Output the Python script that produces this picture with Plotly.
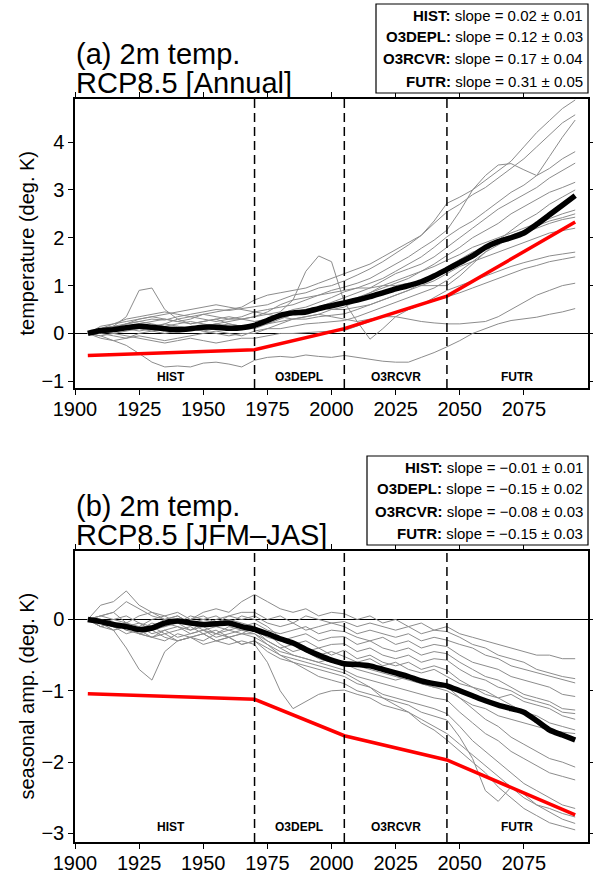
import plotly.graph_objects as go

# ---------------- data ----------------
years = list(range(1905, 2096, 5))
period_edges = [1970, 2005, 2045]
period_names = ["HIST", "O3DEPL", "O3RCVR", "FUTR"]
period_label_x = [1937.5, 1987.5, 2025, 2072.5]
x_ticks = [1900, 1925, 1950, 1975, 2000, 2025, 2050, 2075]

fit_years = [1905, 1970, 2005, 2045, 2095]
annual_fit = [-0.46, -0.34, 0.10, 0.78, 2.33]
seasonal_fit = [-1.04, -1.12, -1.63, -1.97, -2.74]

annual_mean = [0, .06, .08, .12, .15, .13, .10, .08, .10, .13, .13, .11, .12, .17,
               .27, .38, .43, .45, .52, .58, .64,
               .70, .77, .85, .93, 1.0, 1.08, 1.2, 1.34,
               1.48, 1.62, 1.8, 1.92, 2.0, 2.1, 2.28, 2.48, 2.68, 2.88]
seasonal_mean = [0, -.03, -.07, -.10, -.14, -.12, -.05, -.02, -.05, -.07, -.06, -.05, -.10, -.14,
                 -.20, -.27, -.33, -.42, -.50, -.57, -.62,
                 -.63, -.65, -.70, -.75, -.80, -.86, -.90, -.93,
                 -1.0, -1.07, -1.14, -1.2, -1.25, -1.3, -1.42, -1.55, -1.62, -1.69]

a01 = [0, .08, .15, .2, .25, .3, .28, .35, .4, .45, .5, .48, .52, .55] + [.6, .7, .8, .85, .95, 1.0, 1.1] + [1.22, 1.35, 1.5, 1.68, 1.85, 2.05, 2.35, 2.72] + [2.85, 3.0, 3.2, 3.4, 3.6, 3.9, 4.2, 4.45, 4.7, 4.88]
a02 = [0, .05, .1, .15, .2, .15, .2, .3, .35, .4, .45, .5, .55, .7] + [.8, .85, .9, .95, 1.05, 1.15, 1.25] + [1.35, 1.45, 1.6, 1.75, 1.9, 2.05, 2.3, 2.54] + [2.7, 2.9, 3.05, 3.25, 3.45, 3.65, 3.9, 4.15, 4.4, 4.57]
a03 = [0, .1, .12, .2, .3, .35, .3, .25, .3, .4, .35, .3, .35, .45] + [.5, .55, .6, .7, .8, .9, .97] + [1.05, 1.15, 1.3, 1.45, 1.6, 1.78, 1.95, 2.16] + [2.55, 3.0, 3.3, 3.52, 3.55, 3.42, 3.3, 3.7, 4.1, 4.46]
a04 = [0, -.05, 0, .05, .1, .05, 0, .05, .1, .15, .2, .15, .1, .2] + [.3, .4, .5, .55, .65, .75, .87] + [.95, 1.05, 1.15, 1.3, 1.45, 1.6, 1.8, 2.02] + [2.2, 2.35, 2.55, 2.75, 2.95, 3.1, 3.3, 3.45, 3.65, 3.8]
a05 = [0, .1, .15, .1, .05, .1, .2, .15, .1, .05, .1, .15, .1, .1] + [.2, .3, .4, .5, .55, .65, .76] + [.85, .95, 1.1, 1.25, 1.35, 1.45, 1.6, 1.81] + [2.0, 2.2, 2.4, 2.6, 2.75, 2.9, 3.05, 3.25, 3.4, 3.56]
a06 = [0, .15, .2, .3, .35, .4, .45, .4, .35, .3, .25, .3, .3, .25] + [.3, .4, .45, .5, .55, .6, .66] + [.75, .85, .95, 1.05, 1.15, 1.3, 1.45, 1.63] + [1.8, 2.0, 2.15, 2.3, 2.5, 2.65, 2.8, 2.95, 3.05, 3.16]
a07 = [0, 0, -.05, -.1, 0, .05, .1, .15, .1, .05, 0, -.05, 0, 0] + [.1, .2, .3, .35, .4, .5, .55] + [.7, .85, 1.0, 1.1, 1.2, 1.3, 1.4, 1.53] + [1.65, 1.8, 1.9, 2.0, 2.1, 2.2, 2.3, 2.4, 2.5, 2.58]
a08 = [0, .05, .1, .2, .25, .2, .15, .2, .25, .2, .15, .2, .15, .15] + [.2, .25, .3, .3, .35, .38, .41] + [.5, .6, .7, .8, .9, 1.05, 1.2, 1.39] + [1.55, 1.7, 1.8, 1.95, 2.05, 2.15, 2.25, 2.35, 2.42, 2.5]
a09 = [0, -.1, -.15, -.1, -.05, -.1, -.15, -.1, -.05, 0, .05, 0, -.05, .05] + [.1, .1, .15, .2, .22, .25, .27] + [.35, .45, .55, .65, .75, .85, .95, 1.11] + [1.3, 1.5, 1.7, 1.85, 2.0, 2.1, 2.2, 2.3, 2.38, 2.43]
a10 = [0, .05, .1, .15, .2, .25, .3, .25, .2, .25, .3, .35, .3, .35] + [.4, .45, .7, 1.3, 1.62, 1.5, .65] + [.25, -.12, .1, .35, .5, .6, .75, .9] + [1.0, 1.1, 1.2, 1.3, 1.4, 1.48, 1.55, 1.62, 1.66, 1.7]
a11 = [0, .05, 0, -.05, -.1, -.15, -.2, -.15, -.1, -.15, -.2, -.15, -.1, -.1] + [-.05, 0, 0, .02, .03, .05, .06] + [.15, .25, .35, .45, .5, .6, .68, .76] + [.85, .95, 1.05, 1.15, 1.25, 1.35, 1.42, 1.5, 1.55, 1.6]
a12 = [0, .1, .2, .25, .3, .35, .4, .45, .5, .55, .6, .55, .5, .45] + [.4, .35, .3, .35, .4, .35, .3] + [.25, .3, .35, .35, .3, .25, .22, .2] + [.2, .22, .25, .35, .5, .65, .8, .9, 1.0, 1.05]
a13 = [0, -.05, -.15, -.25, -.42, -.6, -.7, -.68, -.7, -.62, -.6, -.64, -.7, -.56] + [-.5, -.48, -.5, -.45, -.48, -.5, -.46] + [-.5, -.55, -.58, -.6, -.6, -.5, -.4, -.28] + [-.15, 0, .1, .2, .27, .3, .34, .4, .45, .52]
a14 = [0, .1, .15, .35, .9, .95, .5, .3, .2, .25, .3, .2, .15, .2] + [.3, .4, .45, .5, .55, .5, .5] + [.55, .6, .7, .8, .9, 1.0, 1.1, 1.25] + [1.4, 1.5, 1.6, 1.7, 1.8, 1.9, 2.0, 2.1, 2.15, 2.2]
a15 = [0, .05, .15, .1, .2, .15, .1, .05, .1, .15, .2, .25, .3, .35] + [.45, .6, .7, .75, .8, .85, .9] + [.95, .95, 1.0, 1.0, 1.05, 1.0, 1.0, 1.0] + [1.2, 1.45, 1.7, 1.95, 2.15, 2.35, 2.5, 2.7, 2.85, 3.0]
annual_members = [a01, a02, a03, a04, a05, a06, a07, a08, a09, a10, a11, a12, a13, a14, a15]

b01 = [0, .2, .25, .4, .2, .1, .05, .1, 0, .1, .15, .1, .25, .35] + [.25, .15, .1, .15, .05, .1, .08] + [0, .05, -.05, 0, -.1, -.05, -.15, -.1] + [-.2, -.25, -.3, -.35, -.4, -.45, -.5, -.5, -.55, -.55]
b02 = [0, .05, 0, -.05, .05, .1, 0, -.05, .05, 0, -.05, .05, .1, .1] + [0, .05, -.05, .05, 0, -.05, -.03] + [-.1, -.05, -.1, -.15, -.1, -.2, -.15, -.17] + [-.25, -.35, -.4, -.5, -.55, -.6, -.7, -.75, -.8, -.83]
b03 = [0, -.05, 0, .05, -.05, -.1, 0, .05, -.05, -.1, 0, .05, 0, .05] + [-.05, -.1, -.05, -.15, -.1, -.05, -.1] + [-.2, -.15, -.2, -.25, -.2, -.3, -.25, -.29] + [-.35, -.4, -.5, -.55, -.65, -.7, -.75, -.8, -.85, -.89]
b04 = [0, -.1, -.05, -.1, -.15, -.05, -.1, 0, -.05, -.15, -.1, -.05, -.1, -.05] + [-.15, -.2, -.15, -.1, -.2, -.15, -.17] + [-.25, -.3, -.25, -.35, -.3, -.4, -.35, -.38] + [-.5, -.6, -.65, -.7, -.8, -.85, -.9, -.95, -1.05, -1.08]
b05 = [0, 0, -.1, -.05, -.2, -.15, -.05, -.1, -.15, -.05, -.1, -.15, -.2, -.1] + [-.2, -.3, -.25, -.2, -.3, -.25, -.24] + [-.35, -.3, -.4, -.45, -.4, -.5, -.45, -.48] + [-.6, -.7, -.8, -.85, -.95, -1.05, -1.1, -1.15, -1.25, -1.27]
b06 = [0, -.05, -.15, -.1, -.2, -.25, -.15, -.1, -.2, -.15, -.2, -.1, -.15, -.15] + [-.25, -.3, -.35, -.3, -.4, -.35, -.34] + [-.45, -.4, -.5, -.55, -.5, -.6, -.55, -.57] + [-.7, -.8, -.85, -.95, -1.0, -1.1, -1.15, -1.2, -1.3, -1.32]
b07 = [0, -.1, -.05, -.15, -.1, -.2, -.15, -.25, -.2, -.15, -.25, -.2, -.15, -.2] + [-.3, -.4, -.35, -.45, -.4, -.5, -.43] + [-.55, -.5, -.6, -.65, -.6, -.7, -.65, -.71] + [-.85, -.95, -1.05, -1.1, -1.2, -1.3, -1.35, -1.45, -1.5, -1.55]
b08 = [0, .05, .1, -.05, -.1, 0, .05, -.05, 0, .05, -.05, 0, -.05, -.1] + [-.2, -.35, -.45, -.4, -.5, -.45, -.52] + [-.6, -.55, -.65, -.6, -.7, -.75, -.7, -.8] + [-.9, -.95, -1.0, -1.1, -1.05, -1.15, -1.2, -1.25, -1.35, -1.4]
b09 = [0, -.05, -.1, -.2, -.15, -.25, -.2, -.3, -.25, -.2, -.3, -.25, -.2, -.25] + [-.35, -.45, -.5, -.55, -.6, -.55, -.62] + [-.7, -.75, -.8, -.85, -.8, -.9, -.95, -.94] + [-1.1, -1.25, -1.4, -1.5, -1.65, -1.75, -1.85, -1.95, -2.0, -2.07]
b10 = [0, 0, -.05, -.1, -.05, -.15, -.1, -.05, -.15, -.1, -.2, -.15, -.1, -.15] + [-.3, -.4, -.5, -.55, -.6, -.65, -.71] + [-.8, -.85, -.9, -.95, -1.0, -1.05, -1.1, -1.13] + [-1.3, -1.45, -1.6, -1.7, -1.85, -1.95, -2.05, -2.15, -2.2, -2.25]
b11 = [0, -.1, -.15, -.1, -.2, -.25, -.3, -.2, -.25, -.3, -.2, -.25, -.35, -.3] + [-.45, -.55, -.6, -.65, -.7, -.75, -.8] + [-.9, -.95, -1.05, -1.1, -1.15, -1.2, -1.25, -1.32] + [-1.5, -1.7, -1.85, -2.0, -2.15, -2.3, -2.4, -2.5, -2.6, -2.65]
b12 = [0, -.05, -.1, -.05, -.15, -.1, -.2, -.15, -.1, -.2, -.15, -.25, -.2, -.2] + [-.35, -.5, -.6, -.7, -.8, -.85, -.9] + [-1.0, -1.05, -1.1, -1.15, -1.2, -1.3, -1.35, -1.41] + [-1.65, -1.95, -2.4, -2.55, -2.35, -2.45, -2.6, -2.65, -2.72, -2.77]
b13 = [0, -.1, -.05, -.15, -.2, -.15, -.25, -.3, -.25, -.2, -.3, -.35, -.3, -.35] + [-.6, -1.0, -1.25, -1.15, -1.05, -1.0, -.99] + [-1.05, -1.1, -1.2, -1.25, -1.3, -1.4, -1.5, -1.6] + [-1.75, -1.9, -2.05, -2.2, -2.35, -2.5, -2.6, -2.7, -2.8, -2.86]
b14 = [0, -.05, -.15, -.4, -.7, -.85, -.45, -.3, -.25, -.35, -.3, -.25, -.35, -.3] + [-.4, -.5, -.55, -.6, -.65, -.7, -.75] + [-.85, -.95, -1.1, -1.2, -1.3, -1.45, -1.55, -1.69] + [-1.85, -2.0, -2.15, -2.35, -2.5, -2.65, -2.75, -2.85, -2.9, -2.95]
b15 = [0, .05, .1, .25, .15, .05, 0, .05, -.05, 0, .05, -.05, .05, 0] + [-.1, -.25, -.35, -.45, -.55, -.6, -.6] + [-.65, -.7, -.75, -.8, -.85, -.9, -.95, -1.0] + [-1.1, -1.2, -1.25, -1.35, -1.4, -1.45, -1.5, -1.55, -1.58, -1.6]
seasonal_members = [b01, b02, b03, b04, b05, b06, b07, b08, b09, b10, b11, b12, b13, b14, b15]

annual_slopes = ["0.02 ± 0.01", "0.12 ± 0.03", "0.17 ± 0.04", "0.31 ± 0.05"]
seasonal_slopes = ["−0.01 ± 0.01", "−0.15 ± 0.02", "−0.08 ± 0.03", "−0.15 ± 0.03"]

# ---------------- figure ----------------
W, H = 593, 875
ML, MR, MT, MB = 75, 5, 99, 33
PW, PH = W - ML - MR, H - MT - MB


def py(ypix):
    return (H - MB - ypix) / PH


def px(xpix):
    return (xpix - ML) / PW


FONT = "Liberation Sans, Arial, Helvetica, sans-serif"
GRAY = "#8c8c8c"

panels = [
    dict(xa="x", ya="y", members=annual_members, mean=annual_mean, fit=annual_fit,
         slopes=annual_slopes, top=99, bottom=388, yr=[-1.14, 4.9], yt=[-1, 0, 1, 2, 3, 4],
         label_y=-0.91, t1="(a) 2m temp.", t2="RCP8.5 [Annual]", ytitle="temperature (deg. K)",
         box=(376, 4, 93), lines=[15, 37, 59, 81]),
    dict(xa="x2", ya="y2", members=seasonal_members, mean=seasonal_mean, fit=seasonal_fit,
         slopes=seasonal_slopes, top=551, bottom=842, yr=[-3.12, 0.96], yt=[-3, -2, -1, 0],
         label_y=-2.91, t1="(b) 2m temp.", t2="RCP8.5 [JFM–JAS]", ytitle="seasonal amp. (deg. K)",
         box=(367, 456, 545), lines=[467, 489, 511, 533]),
]

fig = go.Figure()
annotations = []
shapes = []

for p in panels:
    for m in p["members"]:
        fig.add_trace(go.Scatter(x=years, y=m, mode="lines", xaxis=p["xa"], yaxis=p["ya"],
                                 line=dict(color=GRAY, width=1), showlegend=False, hoverinfo="skip"))
    fig.add_trace(go.Scatter(x=fit_years, y=p["fit"], mode="lines", xaxis=p["xa"], yaxis=p["ya"],
                             line=dict(color="#ff0000", width=3.5), showlegend=False, hoverinfo="skip"))
    fig.add_trace(go.Scatter(x=years, y=p["mean"], mode="lines", xaxis=p["xa"], yaxis=p["ya"],
                             line=dict(color="black", width=5.5, shape="spline", smoothing=0.6),
                             showlegend=False, hoverinfo="skip"))

    yref_dom = p["ya"] + " domain"
    for e in period_edges:
        shapes.append(dict(type="line", xref=p["xa"], yref=yref_dom, x0=e, x1=e, y0=0, y1=1,
                           line=dict(color="black", width=1.5, dash="9px,5px")))
    for name, lx in zip(period_names, period_label_x):
        annotations.append(dict(x=lx, y=p["label_y"], xref=p["xa"], yref=p["ya"], text="<b>%s</b>" % name,
                                showarrow=False, font=dict(size=12, color="black", family=FONT)))
    # titles
    annotations.append(dict(x=0, y=py(p["top"] - 45), xref="paper", yref="paper", text=p["t1"],
                            xanchor="left", yanchor="middle", showarrow=False, borderpad=0,
                            font=dict(size=29, color="black", family=FONT)))
    annotations.append(dict(x=0, y=py(p["top"] - 16), xref="paper", yref="paper", text=p["t2"],
                            xanchor="left", yanchor="middle", showarrow=False, borderpad=0,
                            font=dict(size=29, color="black", family=FONT)))
    # y title
    annotations.append(dict(x=px(26), y=py((p["top"] + p["bottom"]) / 2), xref="paper", yref="paper",
                            text=p["ytitle"], textangle=-90, xanchor="center", yanchor="middle",
                            showarrow=False, font=dict(size=20, color="black", family=FONT)))
    # slope box
    bx, by0, by1 = p["box"]
    shapes.append(dict(type="rect", xref="paper", yref="paper", x0=px(bx), x1=1.0,
                       y0=py(by1), y1=py(by0), line=dict(color="black", width=1.2),
                       fillcolor="white", layer="above"))
    for name, s, ly in zip(period_names, p["slopes"], p["lines"]):
        annotations.append(dict(x=px(585), y=py(ly), xref="paper", yref="paper",
                                text="<b>%s:</b> slope = %s" % (name, s), xanchor="right",
                                yanchor="middle", showarrow=False,
                                font=dict(size=15, color="black", family=FONT)))

axis_common = dict(showline=True, linecolor="black", linewidth=1.5, mirror="ticks", ticks="outside",
                   ticklen=5, tickwidth=1.2, tickcolor="black", showgrid=False, automargin=False,
                   tickfont=dict(size=20, color="black", family=FONT))

fig.update_layout(
    width=W, height=H, margin=dict(l=ML, r=MR, t=MT, b=MB, autoexpand=False),
    paper_bgcolor="white", plot_bgcolor="white", showlegend=False,
    xaxis=dict(domain=[0, 1], anchor="y", range=[1900, 2100], tickvals=x_ticks, zeroline=False,
               ticklabelstandoff=-3, **axis_common),
    yaxis=dict(domain=[py(panels[0]["bottom"]), 1], anchor="x", range=panels[0]["yr"],
               tickvals=panels[0]["yt"], zeroline=True, zerolinecolor="black", zerolinewidth=1, **axis_common),
    xaxis2=dict(domain=[0, 1], anchor="y2", range=[1900, 2100], tickvals=x_ticks, zeroline=False,
                ticklabelstandoff=-3, **axis_common),
    yaxis2=dict(domain=[0, py(panels[1]["top"])], anchor="x2", range=panels[1]["yr"],
                tickvals=panels[1]["yt"], zeroline=True, zerolinecolor="black", zerolinewidth=1, **axis_common),
    annotations=annotations, shapes=shapes,
)

page_fix = ("document.body.style.margin='0px';document.body.style.padding='0px';"
            "document.documentElement.style.overflow='hidden';document.body.style.overflow='hidden';")
fig.write_html("out.html", post_script=page_fix, config={"displayModeBar": False})
